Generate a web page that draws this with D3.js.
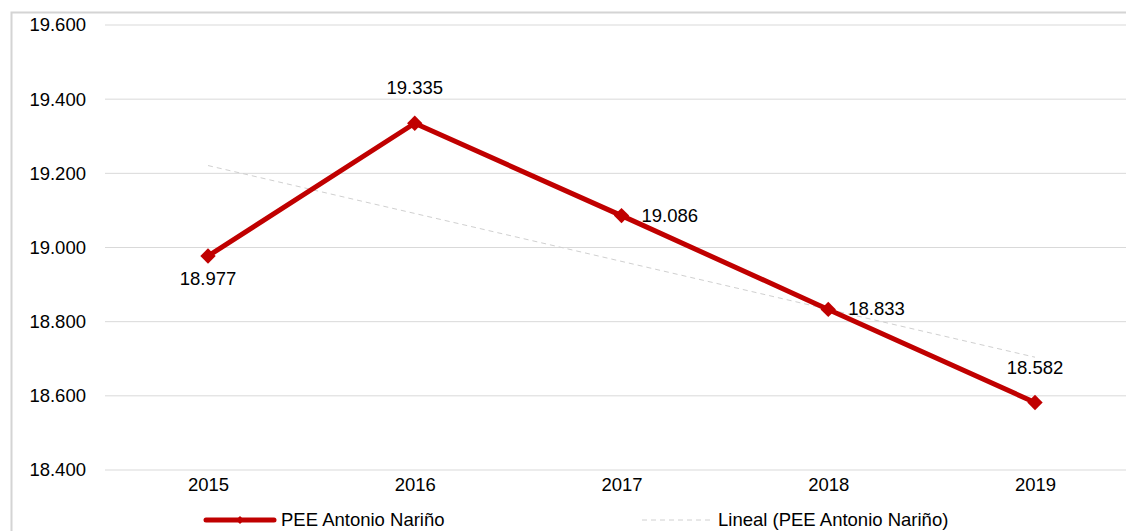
<!DOCTYPE html>
<html><head><meta charset="utf-8">
<script src="https://cdn.jsdelivr.net/npm/d3@7"></script>
<style>body{margin:0;background:#fff}svg{display:block}text{font-family:"Liberation Sans",Arial,sans-serif;fill:#000}</style>
</head><body>
<svg id="c" width="1126" height="531"></svg>
<script>
const years = ["2015","2016","2017","2018","2019"];
const values = [18977, 19335, 19086, 18833, 18582];
const yTicks = [18400, 18600, 18800, 19000, 19200, 19400, 19600];
const seriesName = "PEE Antonio Nariño";
const trendName = "Lineal (PEE Antonio Nariño)";
const labelPos = ["below","above","right","right","above"];

const svg = d3.select("#c");
const W=1126,H=531;
const FS = 18.5;
// chart border
svg.append("rect").attr("x",11.5).attr("y",12.5).attr("width",1130).attr("height",540)
  .attr("fill","none").attr("stroke","#d4d4d4").attr("stroke-width",2);

const x = d3.scalePoint().domain(years).range([208,1035]);
const y = d3.scaleLinear().domain([18400,19600]).range([470,25]);
const fmt = v => d3.format(",")(v).replace(/,/g,".");

// gridlines
svg.append("g").selectAll("line").data(yTicks).join("line")
  .attr("x1",105).attr("x2",W).attr("y1",d=>y(d)).attr("y2",d=>y(d))
  .attr("stroke","#d9d9d9").attr("stroke-width",1);

// y axis labels
const ya = svg.append("g").attr("transform","translate(86,0)")
  .call(d3.axisLeft(y).tickValues(yTicks).tickFormat(fmt).tickSize(0).tickPadding(0));
ya.select(".domain").remove();
ya.selectAll("text").attr("font-size",FS).attr("fill","#000").style("font-family","Liberation Sans, Arial, sans-serif");

// x axis labels
const xa = svg.append("g").attr("transform","translate(0,470)")
  .call(d3.axisBottom(x).tickSize(0).tickPadding(8));
xa.select(".domain").remove();
xa.selectAll("text").attr("font-size",FS).attr("fill","#000").attr("dy","0.71em").style("font-family","Liberation Sans, Arial, sans-serif");

// trendline (linear regression)
const n = values.length;
const xs = values.map((d,i)=>i+1);
const mx = d3.mean(xs), my = d3.mean(values);
const slope = d3.sum(xs.map((xi,i)=>(xi-mx)*(values[i]-my))) / d3.sum(xs.map(xi=>(xi-mx)**2));
const icpt = my - slope*mx;
svg.append("line")
  .attr("x1",x(years[0])).attr("y1",y(icpt+slope*1))
  .attr("x2",x(years[n-1])).attr("y2",y(icpt+slope*n))
  .attr("stroke","#d0d0d0").attr("stroke-width",1).attr("stroke-dasharray","5,4");

// series line
const line = d3.line().x((d,i)=>x(years[i])).y(d=>y(d));
svg.append("path").datum(values).attr("d",line).attr("fill","none")
  .attr("stroke","#C00000").attr("stroke-width",5).attr("stroke-linejoin","round");

// markers
const diamond = d3.symbol().type(d3.symbolDiamond2).size(150);
svg.append("g").selectAll("path").data(values).join("path")
  .attr("d",diamond).attr("transform",(d,i)=>`translate(${x(years[i])},${y(d)})`)
  .attr("fill","#C00000");

// data labels
svg.append("g").selectAll("text").data(values).join("text")
  .attr("font-size",FS)
  .attr("x",(d,i)=>{const p=labelPos[i]; return p==="right"? x(years[i])+20 : x(years[i]);})
  .attr("y",(d,i)=>{const p=labelPos[i]; const yy=y(d);
     return p==="below"? yy+29 : p==="above"? yy-29 : yy+6;})
  .attr("text-anchor",(d,i)=>labelPos[i]==="right"?"start":"middle")
  .text(d=>fmt(d));

// legend
const lg = svg.append("g");
lg.append("line").attr("x1",206).attr("x2",274).attr("y1",520).attr("y2",520)
  .attr("stroke","#C00000").attr("stroke-width",5).attr("stroke-linecap","round");
lg.append("path").attr("d",d3.symbol().type(d3.symbolDiamond2).size(40))
  .attr("transform","translate(240,520)").attr("fill","#C00000");
lg.append("text").attr("x",281).attr("y",526).attr("font-size",FS).text(seriesName);
lg.append("line").attr("x1",642).attr("x2",710).attr("y1",520).attr("y2",520)
  .attr("stroke","#d0d0d0").attr("stroke-width",1).attr("stroke-dasharray","5,4");
lg.append("text").attr("x",718).attr("y",526).attr("font-size",FS).text(trendName);
</script>
</body></html>
